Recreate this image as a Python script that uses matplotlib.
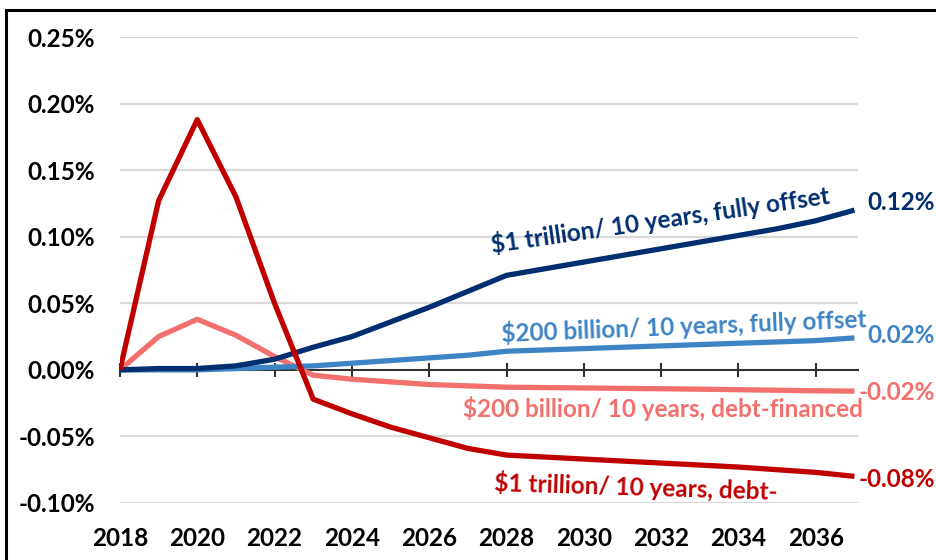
import matplotlib
matplotlib.use("Agg")
import matplotlib.pyplot as plt
from matplotlib.patches import Rectangle
from matplotlib.transforms import blended_transform_factory

years = list(range(2018, 2038))
t1_debt = [0.000, 0.127, 0.188, 0.130, 0.050, -0.022, -0.033, -0.043, -0.051, -0.059,
           -0.064, -0.0655, -0.067, -0.0685, -0.070, -0.0715, -0.073, -0.075, -0.077, -0.080]
b200_debt = [0.000, 0.025, 0.038, 0.026, 0.010, -0.004, -0.007, -0.009, -0.011, -0.012,
             -0.013, -0.0133, -0.0136, -0.0139, -0.0142, -0.0145, -0.0149, -0.0153, -0.0157, -0.016]
t1_offset = [0.000, 0.001, 0.001, 0.003, 0.008, 0.017, 0.025, 0.036, 0.047, 0.059,
             0.071, 0.076, 0.081, 0.086, 0.091, 0.096, 0.101, 0.106, 0.112, 0.120]
b200_offset = [0.000, 0.000, 0.000, 0.001, 0.002, 0.003, 0.005, 0.007, 0.009, 0.011,
               0.014, 0.015, 0.016, 0.017, 0.018, 0.019, 0.020, 0.021, 0.022, 0.024]

xticks = list(range(2018, 2037, 2))
yticks = [-0.10, -0.05, 0.00, 0.05, 0.10, 0.15, 0.20, 0.25]
ytick_labels = ["-0.10%", "-0.05%", "0.00%", "0.05%", "0.10%", "0.15%", "0.20%", "0.25%"]

series_labels = ["$1 trillion/ 10 years, fully offset",
                 "$200 billion/ 10 years, fully offset",
                 "$200 billion/ 10 years, debt-financed",
                 "$1 trillion/ 10 years, debt-"]
end_labels = ["0.12%", "0.02%", "-0.02%", "-0.08%"]

c_navy = "#002E6E"
c_blue = "#3E84C4"
c_pink = "#F2706D"
c_red = "#C00000"

font = "Lato"
fs = 17.5

fig = plt.figure(figsize=(9.37, 5.6), dpi=100)
ax = fig.add_axes([0.128, 0.1018, 0.788, 0.832])

for v in yticks:
    if v != 0:
        ax.axhline(v, color="#D9D9D9", lw=1.6, zorder=1)

ax.plot(years, b200_debt, color=c_pink, lw=3.8, zorder=3, solid_capstyle="butt")
ax.plot(years, b200_offset, color=c_blue, lw=3.8, zorder=3, solid_capstyle="butt")
ax.plot(years, t1_offset, color=c_navy, lw=3.8, zorder=4, solid_capstyle="butt")
ax.plot(years, t1_debt, color=c_red, lw=3.8, zorder=5, solid_capstyle="butt")

ax.set_xlim(2018, 2037.1)
ax.set_ylim(-0.10, 0.25)
ax.set_yticks(yticks)
ax.set_yticklabels(ytick_labels)
ax.set_xticks(xticks)
ax.set_xticklabels([str(x) for x in xticks])
for s in ax.spines.values():
    s.set_visible(False)
ax.tick_params(axis="x", length=0, pad=17)
ax.tick_params(axis="y", length=0, pad=18)
for lbl in ax.get_xticklabels() + ax.get_yticklabels():
    lbl.set_fontfamily(font)
    lbl.set_fontweight("bold")
    lbl.set_fontsize(fs)

# zero axis with crossing ticks
sec = ax.secondary_xaxis(0.10 / 0.35)
sec.set_xticks(xticks)
sec.tick_params(axis="x", direction="inout", length=10, width=1.5, color="#333333",
                labelbottom=False, labeltop=False)
sec.spines["bottom"].set_color("#333333")
sec.spines["bottom"].set_linewidth(1.5)
sec.spines["top"].set_visible(False)

# series labels (anchored at baseline centre)
kw = dict(fontsize=fs, fontweight="bold", family=font, ha="center", va="baseline",
          rotation_mode="anchor")
ax.text(2032.0, 0.1066, series_labels[0], color=c_navy, rotation=8.3, **kw)
ax.text(2032.6, 0.0267, series_labels[1], color=c_blue, rotation=2.3, **kw)
ax.text(2032.05, -0.0353, series_labels[2], color=c_pink, rotation=0, **kw)
ax.text(2031.35, -0.0946, series_labels[3], color=c_red, rotation=-1.8, **kw)

ends = [t1_offset[-1], b200_offset[-1], b200_debt[-1], t1_debt[-1]]
cols = [c_navy, c_blue, c_pink, c_red]
offs = [0.006, 0.002, -0.0013, -0.0026]
tr = blended_transform_factory(fig.transFigure, ax.transData)
for lab, yv, c, o in zip(end_labels, ends, cols, offs):
    ax.text(935 / 937, yv + o, lab, transform=tr, color=c, fontsize=fs,
            fontweight="bold", family=font, ha="right", va="center", clip_on=False)

fig.patches.append(Rectangle((6 / 937, -0.1), 1.2, 1.0 - 10 / 560 + 0.1,
                             transform=fig.transFigure, fill=False, edgecolor="black",
                             linewidth=2.2))

fig.savefig("out.png", dpi=100)
